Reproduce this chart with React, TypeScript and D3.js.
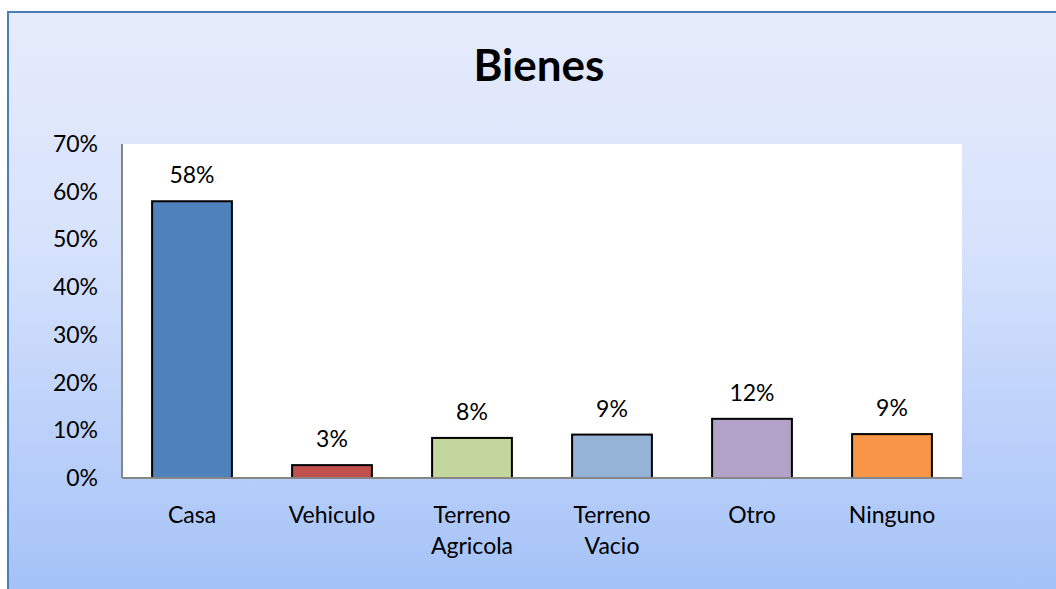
// @ts-nocheck
import React, { useRef, useEffect } from "react";
import * as d3 from "d3";

const categories = ["Casa", "Vehiculo", "Terreno Agricola", "Terreno Vacio", "Otro", "Ninguno"];
const values = [0.58, 0.027, 0.084, 0.091, 0.124, 0.092];
const labels = ["58%", "3%", "8%", "9%", "12%", "9%"];
const colors = ["#4f81bd", "#c0504d", "#c3d69b", "#95b3d7", "#b3a2c7", "#f79646"];
const yTicks = [0, 0.1, 0.2, 0.3, 0.4, 0.5, 0.6, 0.7];

const BarChart = ({ width = 1056, height = 589 }) => {
  const svgRef = useRef(null);

  useEffect(() => {
    const svg = d3.select(svgRef.current);
    svg.selectAll("*").remove();

    const font = "Lato, 'Open Sans', sans-serif";
    const plotLeft = 122,
      plotRight = 962,
      plotTop = 144,
      plotBottom = 478;

    svg.attr("width", width).attr("height", height);

    const defs = svg.append("defs");
    const grad = defs
      .append("linearGradient")
      .attr("id", "bg")
      .attr("x1", 0)
      .attr("y1", 0)
      .attr("x2", 0)
      .attr("y2", 1);
    grad.append("stop").attr("offset", "0%").attr("stop-color", "#e6ebfa");
    grad.append("stop").attr("offset", "40%").attr("stop-color", "#d6e2fc");
    grad.append("stop").attr("offset", "100%").attr("stop-color", "#a3c1f7");

    // outer chart box
    svg
      .append("rect")
      .attr("x", 8)
      .attr("y", 12)
      .attr("width", width)
      .attr("height", height)
      .attr("fill", "url(#bg)")
      .attr("stroke", "#4a7ebb")
      .attr("stroke-width", 2);

    // plot area
    svg
      .append("rect")
      .attr("x", plotLeft)
      .attr("y", plotTop)
      .attr("width", plotRight - plotLeft)
      .attr("height", plotBottom - plotTop)
      .attr("fill", "#ffffff");

    const x = d3.scaleBand().domain(categories).range([plotLeft, plotRight]).paddingInner(0.43).paddingOuter(0.215);
    const y = d3.scaleLinear().domain([0, 0.7]).range([plotBottom, plotTop]);

    // bars
    svg
      .append("g")
      .selectAll("rect")
      .data(values)
      .join("rect")
      .attr("x", (d, i) => x(categories[i]))
      .attr("y", (d) => y(d))
      .attr("width", x.bandwidth())
      .attr("height", (d) => y(0) - y(d))
      .attr("fill", (d, i) => colors[i])
      .attr("stroke", "#000")
      .attr("stroke-width", 2);

    // value labels
    svg
      .append("g")
      .selectAll("text")
      .data(values)
      .join("text")
      .attr("x", (d, i) => x(categories[i]) + x.bandwidth() / 2)
      .attr("y", (d) => y(d) - 18)
      .attr("text-anchor", "middle")
      .attr("font-family", font)
      .attr("font-size", 23)
      .attr("fill", "#000")
      .text((d, i) => labels[i]);

    // axes lines
    svg
      .append("line")
      .attr("x1", plotLeft)
      .attr("x2", plotLeft)
      .attr("y1", plotTop)
      .attr("y2", plotBottom)
      .attr("stroke", "#868686")
      .attr("stroke-width", 2);
    svg
      .append("line")
      .attr("x1", plotLeft)
      .attr("x2", plotRight)
      .attr("y1", plotBottom)
      .attr("y2", plotBottom)
      .attr("stroke", "#868686")
      .attr("stroke-width", 2);

    // y tick labels
    svg
      .append("g")
      .selectAll("text")
      .data(yTicks)
      .join("text")
      .attr("x", 98)
      .attr("y", (d) => y(d) + 8)
      .attr("text-anchor", "end")
      .attr("font-family", font)
      .attr("font-size", 23)
      .attr("fill", "#000")
      .text((d) => d3.format(".0%")(d));

    // category labels (wrapped)
    const cat = svg
      .append("g")
      .selectAll("text")
      .data(categories)
      .join("text")
      .attr("x", (d) => x(d) + x.bandwidth() / 2)
      .attr("y", plotBottom + 45)
      .attr("text-anchor", "middle")
      .attr("font-family", font)
      .attr("font-size", 23)
      .attr("fill", "#000");
    cat.each(function (d) {
      const words = d.split(" ");
      const t = d3.select(this);
      words.forEach((w, i) => {
        t.append("tspan")
          .attr("x", x(d) + x.bandwidth() / 2)
          .attr("dy", i === 0 ? 0 : 31)
          .text(w);
      });
    });

    // title
    svg
      .append("text")
      .attr("x", 539)
      .attr("y", 81)
      .attr("text-anchor", "middle")
      .attr("font-family", font)
      .attr("font-weight", "bold")
      .attr("font-size", 44)
      .attr("fill", "#000")
      .text("Bienes");
  }, [width, height]);

  return <svg ref={svgRef} style={{ position: "absolute", left: 0, top: 0, display: "block" }}></svg>;
};

export default function App() {
  return <BarChart />;
}
